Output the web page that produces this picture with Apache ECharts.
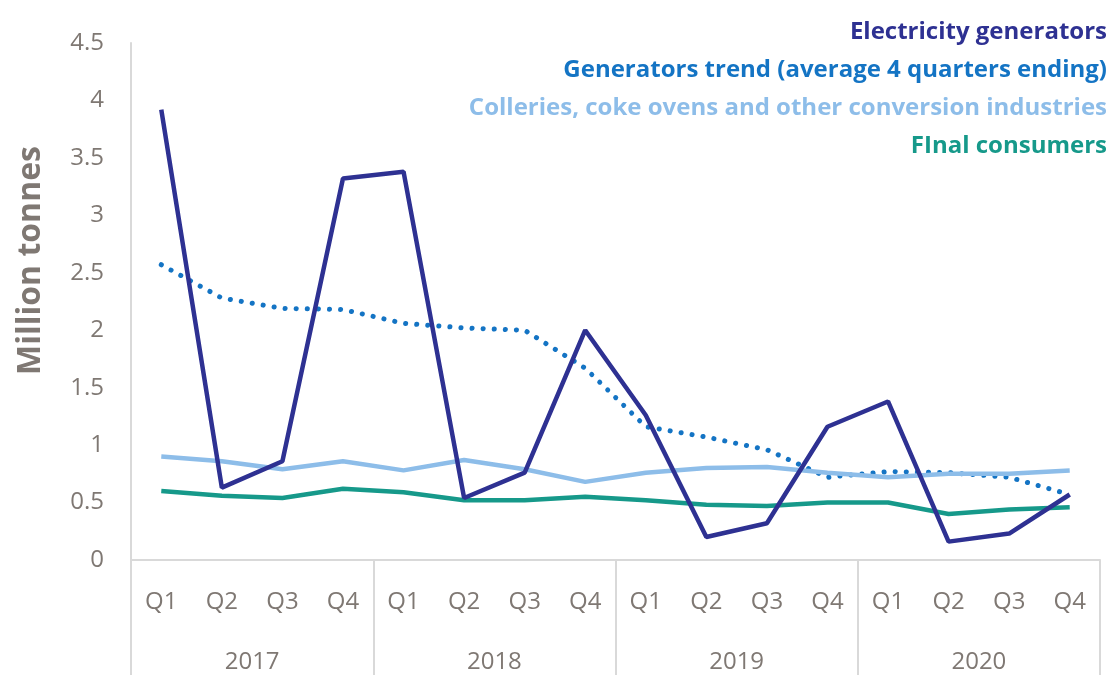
<!DOCTYPE html>
<html>
<head>
<meta charset="utf-8">
<script src="https://cdn.jsdelivr.net/npm/echarts@6/dist/echarts.min.js"></script>
<style>
  html, body { margin: 0; padding: 0; background: #fff; }
  #chart { width: 1111px; height: 675px; }
</style>
</head>
<body>
<div id="chart"></div>
<script>
const quarters = ['Q1', 'Q2', 'Q3', 'Q4', 'Q1', 'Q2', 'Q3', 'Q4', 'Q1', 'Q2', 'Q3', 'Q4', 'Q1', 'Q2', 'Q3', 'Q4'];
const years = ['2017', '2018', '2019', '2020'];

const seriesNames = [
  'Electricity generators',
  'Generators trend (average 4 quarters ending)',
  'Colleries, coke ovens and other conversion industries',
  'FInal consumers'
];

const generators = [3.92, 0.63, 0.86, 3.32, 3.38, 0.54, 0.76, 2.0, 1.26, 0.2, 0.32, 1.16, 1.38, 0.16, 0.23, 0.57];
const generatorsTrend = [2.57, 2.28, 2.19, 2.18, 2.06, 2.02, 2.0, 1.67, 1.16, 1.07, 0.96, 0.72, 0.77, 0.76, 0.72, 0.57];
const collieries = [0.9, 0.86, 0.79, 0.86, 0.78, 0.87, 0.79, 0.68, 0.76, 0.8, 0.81, 0.76, 0.72, 0.75, 0.75, 0.78];
const finalConsumers = [0.6, 0.56, 0.54, 0.62, 0.59, 0.52, 0.52, 0.55, 0.52, 0.48, 0.47, 0.5, 0.5, 0.4, 0.44, 0.46];

const colors = ['#2e3192', '#1474c4', '#8dbde9', '#16998a'];
const textGrey = '#7f7873';
const lineGrey = '#d9d9d9';
const font = 'Open Sans';

const chart = echarts.init(document.getElementById('chart'));

const dataSets = [generators, generatorsTrend, collieries, finalConsumers];

const series = dataSets.map((d, i) => ({
  name: seriesNames[i],
  type: 'line',
  data: d,
  symbol: 'none',
  xAxisIndex: 0,
  z: i === 0 ? 5 : 3,
  lineStyle: i === 1
    ? { color: colors[i], width: 5, type: [0.1, 11], cap: 'round' }
    : { color: colors[i], width: 4.5 },
  itemStyle: { color: colors[i] }
}));

// right-aligned coloured legend text, no icons
const legendText = seriesNames.map((name, i) => ({
  type: 'text',
  right: 4,
  top: 20 + i * 38,
  style: {
    text: name,
    fill: colors[i],
    font: 'bold 24px "' + font + '"',
    textAlign: 'right'
  }
}));

const option = {
  animation: false,
  backgroundColor: '#fff',
  grid: { left: 131, right: 11, top: 43, bottom: 115 },
  graphic: legendText,
  xAxis: [
    {
      type: 'category',
      data: quarters,
      boundaryGap: true,
      axisLine: { show: true, lineStyle: { color: lineGrey, width: 2 } },
      axisTick: { show: false },
      axisLabel: { color: textGrey, fontSize: 24, fontFamily: font, margin: 30, interval: 0 }
    },
    {
      type: 'category',
      data: years,
      position: 'bottom',
      boundaryGap: true,
      axisLine: { show: false },
      axisTick: { show: true, length: 118, lineStyle: { color: lineGrey, width: 2 } },
      axisLabel: { color: textGrey, fontSize: 24, fontFamily: font, margin: 90, interval: 0 }
    }
  ],
  yAxis: {
    type: 'value',
    min: 0,
    max: 4.5,
    interval: 0.5,
    name: 'Million tonnes',
    nameLocation: 'middle',
    nameRotate: 90,
    nameGap: 84,
    nameTextStyle: { color: textGrey, fontSize: 32, fontWeight: 'bold', fontFamily: font, padding: [0, 0, 0, 82] },
    axisLine: { show: true, lineStyle: { color: lineGrey, width: 2 } },
    axisTick: { show: false },
    splitLine: { show: false },
    axisLabel: { color: textGrey, fontSize: 24, fontFamily: font, margin: 27 }
  },
  series: series
};

chart.setOption(option);
</script>
</body>
</html>
